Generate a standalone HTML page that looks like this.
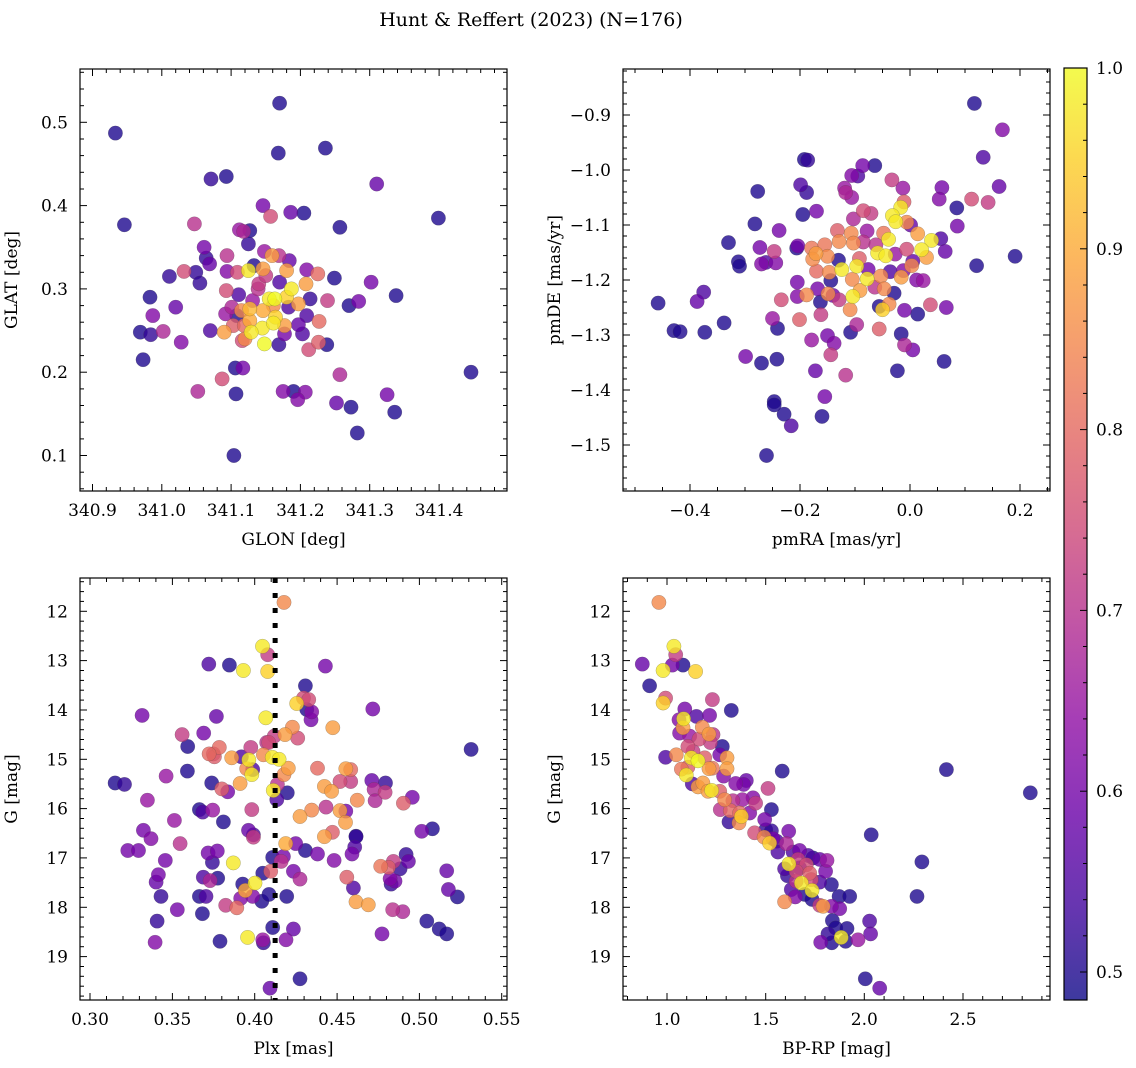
<!DOCTYPE html>
<html><head><meta charset="utf-8">
<style>
html,body{margin:0;padding:0;background:#fff;}
svg{display:block;font-family:"DejaVu Serif","Liberation Serif",serif;}
</style></head>
<body>
<svg id="fig" width="1136" height="1068" viewBox="0 0 1136 1068" xmlns="http://www.w3.org/2000/svg">
<text x="531" y="26" font-size="19" text-anchor="middle">Hunt &amp; Reffert (2023) (N=176)</text>
</svg>
<script>
// ---------- data ----------
const glon = [341.170,340.933,341.168,341.236,341.071,341.093,341.310,341.146,341.157,341.186,341.205,341.399,340.946,341.047,341.257,341.112,341.127,341.118,341.125,341.061,341.064,341.069,341.094,341.148,341.159,341.169,341.184,341.011,341.032,341.049,341.055,341.094,341.109,341.125,341.146,341.133,341.180,341.209,341.225,341.249,341.302,340.983,341.020,340.987,340.969,340.984,341.002,341.028,340.973,341.070,341.093,341.111,341.140,341.131,341.155,341.163,341.187,341.180,341.208,341.214,341.239,341.270,341.284,341.338,341.197,341.183,341.209,341.101,341.092,341.115,341.127,341.146,341.164,341.127,341.103,341.119,341.145,341.161,341.177,341.197,341.227,341.090,341.129,341.120,341.116,341.148,341.177,341.169,341.203,341.212,341.226,341.238,341.106,341.117,341.087,341.052,341.107,341.175,341.190,341.207,341.196,341.252,341.273,341.257,341.325,341.336,341.282,341.104,341.446,341.170,341.150,341.139,341.108,341.161];
const glat = [0.523,0.487,0.463,0.469,0.432,0.435,0.426,0.400,0.387,0.392,0.391,0.385,0.377,0.378,0.374,0.371,0.370,0.369,0.354,0.350,0.337,0.330,0.340,0.345,0.340,0.340,0.334,0.315,0.321,0.320,0.307,0.321,0.320,0.322,0.324,0.328,0.322,0.323,0.318,0.313,0.308,0.290,0.278,0.268,0.248,0.245,0.249,0.236,0.215,0.250,0.298,0.293,0.306,0.286,0.288,0.288,0.300,0.290,0.306,0.288,0.286,0.280,0.285,0.292,0.282,0.278,0.268,0.278,0.270,0.274,0.276,0.274,0.266,0.262,0.256,0.256,0.253,0.259,0.256,0.257,0.261,0.248,0.248,0.240,0.238,0.234,0.246,0.233,0.246,0.227,0.236,0.233,0.205,0.205,0.192,0.177,0.174,0.177,0.177,0.176,0.167,0.163,0.158,0.197,0.173,0.152,0.127,0.100,0.200,0.308,0.316,0.300,0.268,0.280];
const prob1 = [.5,.5,.5,.5,.52,.5,.58,.6,.75,.58,.5,.5,.5,.7,.5,.65,.5,.68,.52,.6,.52,.58,.7,.65,.88,.7,.58,.52,.75,.52,.52,.62,.75,.98,.88,.5,.88,.62,.8,.5,.6,.5,.58,.62,.5,.52,.68,.62,.5,.55,.75,.55,.72,.65,.98,1.0,.98,.95,.88,.52,.72,.5,.6,.5,.88,.55,.55,.68,.65,.85,.92,.9,.95,.9,.78,.8,.98,.98,.88,.58,.8,.88,.98,.85,.75,1.0,.6,.52,.55,.75,.78,.5,.5,.6,.75,.68,.5,.62,.5,.62,.62,.58,.5,.68,.6,.5,.5,.5,.5,.55,.72,.7,.5,.85];

const pmra = [0.117,0.168,0.133,0.162,-0.192,-0.186,-0.086,-0.064,-0.106,-0.095,-0.033,-0.013,-0.199,-0.188,-0.277,-0.119,-0.117,-0.106,0.058,0.053,0.112,0.142,0.085,-0.011,-0.017,-0.170,-0.195,-0.085,-0.071,-0.032,-0.026,-0.006,-0.103,0.001,0.086,-0.282,-0.238,-0.132,-0.107,-0.078,-0.048,0.014,0.039,0.056,-0.330,-0.273,-0.247,-0.206,-0.204,-0.179,-0.155,-0.129,-0.103,-0.085,-0.039,-0.062,-0.006,0.021,0.064,0.191,-0.059,-0.044,-0.027,0.030,-0.171,-0.150,-0.177,-0.312,-0.310,-0.270,-0.262,-0.244,-0.130,-0.092,0.005,0.121,-0.170,-0.147,-0.124,-0.097,-0.076,-0.036,-0.012,0.003,-0.144,-0.105,-0.078,-0.053,-0.016,0.012,0.024,-0.205,-0.168,-0.149,-0.140,-0.091,-0.064,-0.047,-0.029,-0.458,-0.387,-0.375,-0.429,-0.418,-0.373,-0.338,-0.234,-0.205,-0.188,-0.163,-0.129,-0.104,-0.109,-0.056,-0.050,-0.038,-0.010,0.014,0.037,0.066,-0.250,-0.241,-0.201,-0.162,-0.097,-0.108,-0.056,-0.016,-0.179,-0.150,-0.138,-0.010,0.005,-0.144,-0.299,-0.270,-0.242,-0.172,-0.117,-0.023,0.062,-0.155,-0.247,-0.247,-0.229,-0.160,-0.216,-0.261];
const pmde = [-0.879,-0.927,-0.977,-1.030,-0.981,-0.982,-0.992,-0.992,-1.010,-1.011,-1.018,-1.033,-1.027,-1.041,-1.039,-1.033,-1.041,-1.050,-1.032,-1.053,-1.053,-1.059,-1.069,-1.058,-1.068,-1.075,-1.081,-1.074,-1.079,-1.083,-1.094,-1.095,-1.089,-1.100,-1.102,-1.098,-1.110,-1.110,-1.115,-1.111,-1.115,-1.116,-1.128,-1.125,-1.132,-1.141,-1.148,-1.142,-1.138,-1.142,-1.136,-1.130,-1.133,-1.131,-1.126,-1.136,-1.144,-1.145,-1.148,-1.157,-1.151,-1.156,-1.153,-1.159,-1.152,-1.157,-1.162,-1.167,-1.175,-1.171,-1.168,-1.169,-1.164,-1.161,-1.166,-1.174,-1.184,-1.186,-1.181,-1.175,-1.181,-1.185,-1.183,-1.174,-1.201,-1.199,-1.198,-1.193,-1.195,-1.200,-1.201,-1.204,-1.216,-1.225,-1.228,-1.219,-1.213,-1.216,-1.224,-1.242,-1.239,-1.222,-1.292,-1.294,-1.295,-1.278,-1.236,-1.230,-1.227,-1.240,-1.236,-1.230,-1.254,-1.248,-1.254,-1.244,-1.255,-1.262,-1.245,-1.250,-1.270,-1.288,-1.272,-1.263,-1.281,-1.295,-1.289,-1.298,-1.309,-1.301,-1.315,-1.318,-1.327,-1.336,-1.339,-1.351,-1.344,-1.365,-1.373,-1.365,-1.348,-1.412,-1.421,-1.427,-1.444,-1.448,-1.465,-1.519];
const prob2 = [.5,.62,.55,.58,.5,.52,.6,.5,.62,.55,.72,.65,.55,.52,.5,.65,.68,.65,.6,.62,.75,.72,.5,.78,.98,.6,.5,.75,.72,.98,.98,.85,.68,.58,.6,.5,.6,.78,.85,.65,.82,.88,.98,.55,.5,.6,.72,.5,.6,.82,.82,.85,.85,.7,.98,.7,.75,.98,.58,.5,.98,.98,.65,.88,.88,.85,.85,.5,.5,.62,.55,.62,.5,.78,.58,.5,.8,.85,.98,.98,.6,.55,.62,.85,.5,.85,.98,.85,.88,.62,.65,.6,.6,.85,.6,.88,.7,.85,.5,.5,.58,.55,.5,.5,.5,.5,.75,.62,.85,.5,.72,.98,.85,.5,.95,.85,.6,.5,.75,.6,.65,.5,.78,.72,.68,.5,.78,.5,.65,.6,.62,.68,.6,.72,.6,.5,.5,.58,.7,.5,.5,.6,.5,.5,.5,.5,.55,.5];

const plx = [0.4178,0.4047,0.4079,0.3721,0.3846,0.3931,0.4079,0.4429,0.4308,0.4296,0.4328,0.4255,0.4316,0.4346,0.4342,0.4717,0.3316,0.3767,0.4067,0.4474,0.4229,0.4184,0.4261,0.3559,0.3690,0.4119,0.4085,0.3593,0.3785,0.3723,0.3755,0.3860,0.3919,0.3976,0.4053,0.4107,0.4148,0.3964,0.3988,0.3951,0.3982,0.4204,0.4178,0.4381,0.4553,0.4583,0.3591,0.3462,0.3152,0.3209,0.3739,0.3911,0.3800,0.3836,0.4138,0.4113,0.4198,0.4134,0.4423,0.4467,0.4518,0.4583,0.4711,0.4794,0.4725,0.4792,0.4731,0.4623,0.4903,0.4957,0.3348,0.3664,0.3684,0.3745,0.3982,0.4275,0.4346,0.4433,0.4518,0.4553,0.4551,0.3512,0.3810,0.3324,0.3370,0.3962,0.3992,0.3992,0.4423,0.4472,0.4615,0.5014,0.5079,0.3229,0.3294,0.3547,0.4188,0.4249,0.4308,0.4381,0.4482,0.4591,0.4607,0.4615,0.3717,0.3773,0.3743,0.3457,0.3870,0.4109,0.4174,0.4160,0.4919,0.4842,0.4765,0.4812,0.4883,0.4933,0.5166,0.3415,0.3401,0.3688,0.3729,0.3775,0.4049,0.4097,0.4235,0.4275,0.4559,0.4822,0.4852,0.4828,0.3431,0.3664,0.3704,0.3927,0.4002,0.3943,0.3915,0.3988,0.4043,0.4087,0.4194,0.4599,0.5176,0.5231,0.3824,0.3891,0.3530,0.3682,0.4615,0.4690,0.4838,0.4899,0.3407,0.5045,0.5120,0.5166,0.4773,0.4109,0.4235,0.3395,0.3789,0.3957,0.4049,0.4053,0.4190,0.4275,0.4093,0.5314,0.3749,0.4073];
const gmag3 = [11.82,12.71,12.88,13.07,13.09,13.20,13.22,13.11,13.51,13.76,13.79,13.87,13.99,14.04,14.20,13.98,14.11,14.13,14.16,14.36,14.35,14.50,14.57,14.50,14.47,14.53,14.66,14.74,14.76,14.89,14.95,14.97,14.95,14.76,14.91,14.96,15.00,15.01,15.21,15.19,15.31,15.18,15.31,15.18,15.19,15.21,15.24,15.34,15.48,15.51,15.48,15.49,15.60,15.66,15.51,15.63,15.68,15.82,15.55,15.65,15.45,15.45,15.43,15.48,15.61,15.67,15.84,15.83,15.89,15.77,15.83,16.02,16.07,16.03,16.02,16.16,16.03,15.97,16.04,16.05,16.28,16.24,16.27,16.44,16.61,16.44,16.53,16.58,16.57,16.48,16.56,16.46,16.41,16.85,16.85,16.71,16.71,16.71,16.85,16.92,17.05,16.92,16.78,16.57,16.90,16.86,17.09,17.05,17.10,16.99,16.97,17.07,16.93,17.07,17.17,17.19,17.22,17.07,17.26,17.34,17.49,17.39,17.46,17.41,17.31,17.27,17.27,17.43,17.39,17.42,17.47,17.53,17.78,17.78,17.78,17.53,17.51,17.66,17.82,17.78,17.88,17.74,17.78,17.61,17.64,17.79,17.96,18.01,18.05,18.13,17.89,17.95,18.05,18.09,18.28,18.28,18.44,18.54,18.54,18.41,18.44,18.71,18.69,18.61,18.66,18.72,18.66,19.45,19.64,14.80,14.89,14.66];
const prob3 = [.85,.98,.72,.55,.5,.98,.95,.6,.5,.75,.75,.95,.5,.62,.6,.6,.6,.58,.98,.88,.85,.88,.75,.72,.6,.72,.75,.5,.8,.8,.78,.88,.55,.72,.85,.98,.98,.98,.55,.85,.98,.88,.85,.8,.88,.8,.5,.65,.5,.52,.5,.88,.78,.6,.7,.98,.5,.55,.88,.88,.75,.72,.58,.52,.68,.72,.68,.85,.78,.6,.65,.5,.55,.65,.72,.88,.85,.7,.88,.6,.88,.65,.5,.6,.62,.58,.55,.72,.88,.78,.5,.6,.5,.6,.6,.7,.9,.6,.5,.6,.62,.6,.55,.52,.6,.6,.52,.6,.98,.5,.6,.7,.52,.72,.82,.78,.52,.58,.58,.6,.58,.55,.68,.5,.5,.78,.6,.68,.78,.62,.6,.52,.52,.5,.55,.5,.98,.9,.62,.62,.5,.5,.5,.55,.58,.5,.72,.8,.6,.5,.88,.88,.7,.68,.52,.5,.5,.5,.6,.5,.58,.62,.5,.98,.65,.52,.62,.5,.58,.5,.75,.7];

const bprp = [0.959,1.035,1.044,0.875,1.027,1.081,0.980,1.145,0.912,0.993,1.230,0.980,1.090,1.326,1.149,1.216,1.061,1.084,1.081,1.179,1.064,1.115,1.162,1.213,1.233,1.220,1.280,1.106,1.132,0.993,1.047,1.123,1.157,1.191,1.267,1.304,1.073,1.106,1.098,1.213,1.230,1.304,1.287,1.128,1.157,1.182,1.208,1.226,1.267,1.348,1.402,1.388,1.512,1.584,1.292,1.334,1.382,1.436,1.449,1.270,1.321,1.368,1.419,1.377,1.365,1.314,1.529,1.495,1.500,1.529,1.444,1.492,1.520,1.556,1.617,1.605,1.562,1.639,1.672,1.618,1.664,1.706,1.740,1.774,1.811,1.804,1.596,1.610,1.655,1.723,1.774,1.833,1.681,1.655,1.731,1.630,1.650,1.698,1.735,1.735,1.596,1.774,1.791,1.833,1.875,1.872,1.926,1.838,1.855,1.912,2.027,2.032,1.883,1.816,1.779,1.835,1.905,1.968,2.005,2.078,2.035,2.292,2.267,2.416,2.841,1.537,1.715,1.672];
const gmag4 = [11.82,12.71,12.88,13.07,13.09,13.09,13.20,13.22,13.51,13.76,13.79,13.86,13.98,14.01,14.13,14.11,14.20,14.18,14.36,14.35,14.47,14.53,14.59,14.49,14.50,14.66,14.74,14.74,14.84,14.96,14.91,14.97,15.03,14.97,14.91,14.97,15.20,15.16,15.32,15.19,15.18,15.19,15.34,15.50,15.56,15.48,15.65,15.63,15.65,15.49,15.43,15.51,15.59,15.24,15.82,15.84,15.82,15.78,15.89,16.02,16.04,16.09,16.09,16.16,16.29,16.27,16.02,16.22,16.43,16.45,16.49,16.58,16.70,16.66,16.46,16.71,16.88,16.88,16.85,17.12,17.03,17.14,17.00,17.03,17.05,17.27,17.22,17.36,17.27,17.31,17.49,17.54,17.51,17.47,17.44,17.64,17.79,17.74,17.66,17.84,17.89,17.96,17.98,17.98,18.03,17.78,17.78,18.27,18.42,18.43,18.28,18.54,18.61,18.54,18.71,18.72,18.69,18.66,19.45,19.64,16.53,17.08,17.78,15.21,15.68,16.61,16.95,17.20];
const prob4 = [.85,.98,.72,.58,.6,.5,.98,.95,.5,.75,.72,.95,.6,.5,.55,.6,.62,.98,.88,.85,.62,.65,.75,.88,.7,.72,.5,.75,.72,.55,.85,.98,1.0,.78,.6,.88,.82,.78,.98,.88,.82,.88,.62,.55,.88,.88,.88,.98,.78,.62,.58,.6,.72,.5,.85,.7,.65,.62,.72,.7,.8,.8,.62,.95,.85,.52,.5,.6,.52,.52,.75,.85,.95,.55,.6,.68,.55,.55,.6,.98,.72,.75,.5,.58,.65,.6,.55,.52,.75,.78,.55,.5,.98,.7,.75,.55,.62,.5,.98,.5,.85,.72,.88,.62,.6,.5,.5,.5,.5,.5,.55,.58,.98,.52,.6,.5,.5,.65,.5,.58,.5,.5,.5,.5,.5,.6,.55,.55];

const cbTicks = [0.5,0.6,0.7,0.8,0.9,1.0];
const plxCut = [0.4124];

// ---------- helpers ----------
const NS = "http://www.w3.org/2000/svg";
const svg = document.getElementById('fig');
function el(tag, attrs, parent){ const e=document.createElementNS(NS,tag); for(const k in attrs) e.setAttribute(k,attrs[k]); (parent||svg).appendChild(e); return e; }
const PL = ["#0d0887","#41049d","#6a00a8","#8f0da4","#b12a90","#cc4778","#e16462","#f2844b","#fca636","#fcce25","#f0f921"];
function hex(h){return [parseInt(h.slice(1,3),16),parseInt(h.slice(3,5),16),parseInt(h.slice(5,7),16)];}
const VMIN=0.4845, VMAX=1.0;
function plasma(v){ let t=(v-VMIN)/(VMAX-VMIN); t=Math.max(0,Math.min(1,t)); const f=t*10, i=Math.min(9,Math.floor(f)), r=f-i; const a=hex(PL[i]), b=hex(PL[i+1]); return `rgb(${a.map((c,k)=>Math.round(c+(b[k]-c)*r)).join(',')})`; }
function fmt(v,d){ if(Math.abs(v)<1e-9) v=0; const s=v.toFixed(d); return s.startsWith('-')?'\u2212'+s.slice(1):s; }

function panel(o){
  const {name,L,R,T,B,xmin,xmax,ymin,ymax,yinv,xs,ys,ps,xMaj,xMin,yMaj,yMin,xd,yd,xlabel,ylabel} = o;
  const g = el('g',{});
  
  
  const sx = v => L + (v-xmin)/(xmax-xmin)*(R-L);
  const sy = v => yinv ? T + (v-ymin)/(ymax-ymin)*(B-T) : B - (v-ymin)/(ymax-ymin)*(B-T);
  const clipId = name+'-clip';
  const cp = el('clipPath',{id:clipId},g); el('rect',{x:L,y:T,width:R-L,height:B-T},cp);
  const pg = el('g',{'clip-path':`url(#${clipId})`},g);
  const idx = xs.map((_,i)=>i).sort((a,b)=>ps[a]-ps[b]);
  idx.forEach(i=>{
    const c = el('circle',{cx:sx(xs[i]).toFixed(1),cy:sy(ys[i]).toFixed(1),r:7.2,fill:plasma(ps[i]),'fill-opacity':0.8,stroke:'#444','stroke-width':0.4,'stroke-opacity':0.5},pg);
    
    
  });
  if(o.extra) o.extra(pg,sx,sy);
  const eps=1e-9;
  const tk = el('g',{stroke:'#000','stroke-width':1},g);
  for(let v=Math.ceil(xmin/xMin-eps)*xMin; v<=xmax+eps; v+=xMin){
    const x=sx(v).toFixed(1), maj=Math.abs(v/xMaj-Math.round(v/xMaj))<1e-6, len=maj?7:4;
    el('line',{x1:x,x2:x,y1:B,y2:B-len},tk); el('line',{x1:x,x2:x,y1:T,y2:T+len},tk);
    if(maj){ const t=el('text',{x:x,y:B+25,'font-size':17,'text-anchor':'middle'},g); t.textContent=fmt(v,xd);
        }
  }
  for(let v=Math.ceil(ymin/yMin-eps)*yMin; v<=ymax+eps; v+=yMin){
    const y=sy(v).toFixed(1), maj=Math.abs(v/yMaj-Math.round(v/yMaj))<1e-6, len=maj?7:4;
    el('line',{x1:L,x2:L+len,y1:y,y2:y},tk); el('line',{x1:R,x2:R-len,y1:y,y2:y},tk);
    if(maj){ const t=el('text',{x:L-12,y:+y+6,'font-size':17,'text-anchor':'end'},g); t.textContent=fmt(v,yd);
        }
  }
  el('rect',{x:L,y:T,width:R-L,height:B-T,fill:'none',stroke:'#000','stroke-width':1.2},g);
  const xl = el('text',{x:(L+R)/2,y:B+54,'font-size':17,'text-anchor':'middle'},g); xl.textContent=xlabel;
   
  const yx = L-63, yc=(T+B)/2;
  const yl = el('text',{x:yx,y:yc,'font-size':17,'text-anchor':'middle',transform:`rotate(-90 ${yx} ${yc})`},g); yl.textContent=ylabel;
   
}

panel({name:'panel-glon-glat',L:80,R:507,T:69,B:491,xmin:340.882,xmax:341.498,ymin:0.0574,ymax:0.564,xs:glon,ys:glat,ps:prob1,xMaj:0.1,xMin:0.02,yMaj:0.1,yMin:0.02,xd:1,yd:1,xlabel:'GLON [deg]',ylabel:'GLAT [deg]'});
panel({name:'panel-proper-motion',L:623,R:1050,T:69,B:491,xmin:-0.5218,xmax:0.2545,ymin:-1.5836,ymax:-0.8164,xs:pmra,ys:pmde,ps:prob2,xMaj:0.2,xMin:0.05,yMaj:0.1,yMin:0.02,xd:1,yd:1,xlabel:'pmRA [mas/yr]',ylabel:'pmDE [mas/yr]'});
panel({name:'panel-plx-g',L:80,R:507,T:578,B:1000,xmin:0.2939,xmax:0.5532,ymin:11.325,ymax:19.88,yinv:true,xs:plx,ys:gmag3,ps:prob3,xMaj:0.05,xMin:0.01,yMaj:1,yMin:0.2,xd:2,yd:0,xlabel:'Plx [mas]',ylabel:'G [mag]',
  extra:(pg,sx,sy)=>{ plxCut.forEach(v=>{ const l=el('line',{x1:sx(v),x2:sx(v),y1:578,y2:1000,stroke:'#000','stroke-width':5,'stroke-dasharray':'5 10'},pg);
      }); }});
panel({name:'panel-cmd',L:623,R:1050,T:578,B:1000,xmin:0.777,xmax:2.941,ymin:11.325,ymax:19.88,yinv:true,xs:bprp,ys:gmag4,ps:prob4,xMaj:0.5,xMin:0.1,yMaj:1,yMin:0.2,xd:1,yd:0,xlabel:'BP-RP [mag]',ylabel:'G [mag]'});

// colorbar
const cb = el('g',{});


const CL=1064, CR=1087, CT=68, CB=1000;
const defs = el('defs',{},cb);
const grad = el('linearGradient',{id:'cbg',x1:0,y1:1,x2:0,y2:0},defs);
for(let k=0;k<=20;k++){ const v=VMIN+(VMAX-VMIN)*k/20; el('stop',{offset:k/20,'stop-color':plasma(v),'stop-opacity':0.8},grad); }
el('rect',{x:CL,y:CT,width:CR-CL,height:CB-CT,fill:'url(#cbg)'},cb);
const cy = v => CB - (v-VMIN)/(VMAX-VMIN)*(CB-CT);
for(let v=0.5; v<=1.0001; v+=0.02){ const y=cy(v).toFixed(1); const maj=Math.abs(v*10-Math.round(v*10))<1e-6;
  el('line',{x1:CR,x2:CR-(maj?7:4),y1:y,y2:y,stroke:'#000','stroke-width':1},cb); }
cbTicks.forEach(v=>{ const t=el('text',{x:CR+9,y:cy(v)+6,'font-size':17},cb); t.textContent=v.toFixed(1);
    });
el('rect',{x:CL,y:CT,width:CR-CL,height:CB-CT,fill:'none',stroke:'#000','stroke-width':1.2},cb);
</script>
</body></html>
